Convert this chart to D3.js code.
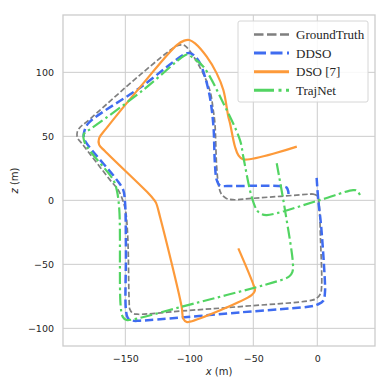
<!DOCTYPE html>
<html>
<head>
<meta charset="utf-8">
<script src="https://cdn.jsdelivr.net/npm/d3@7"></script>
<style>
  body { margin: 0; background: #fff; }
  svg { display: block; }
</style>
</head>
<body>
<svg id="chart" width="390" height="392"></svg>
<script>
// trajectories, [x, z] in metres
var groundTruth = [[-4,5],[0,3.5],[1.2,-1],[2.5,-30],[3.4,-67],[2.5,-73],[-0.5,-76.5],[-4,-78],[-60,-83],[-107,-86.5],[-140,-89],[-144,-88.3],[-146.5,-85],[-147,-79],[-148,-31],[-149.5,-10],[-151,-3],[-155.5,8],[-162,16],[-184,44.5],[-187.5,49],[-187.5,53.5],[-185,57.5],[-180,61.5],[-138.5,98],[-110,120.5],[-106,121.5],[-103,120.5],[-92,104.5],[-84,86],[-81.3,70.5],[-80,60],[-78.6,26],[-77,11],[-75,5],[-71,1.5],[-66,0.5],[-50,1.6],[-4,5]];
var ddso = [[-0.5,17.5],[0.8,0],[3,-20],[6,-65],[6,-72],[4.7,-78.5],[0,-81.5],[-3,-82.5],[-60,-87.5],[-138.5,-94],[-144,-94],[-148,-92],[-149.5,-86],[-149.5,-40],[-150.2,-2],[-151.6,8],[-156.7,16],[-180.2,44.5],[-182.5,49],[-182,54],[-178.9,60.2],[-138.5,88],[-103,114.5],[-99.5,115],[-96,113],[-91.6,107],[-85,86],[-81.3,60],[-80,29],[-78.6,16],[-76,11.5],[-70,11.2],[-27,11],[-24,10],[-22.7,7],[-22.5,5]];
var dso = [[-16,42],[-57.8,32],[-61.7,35.4],[-64.3,41.9],[-68.2,60.2],[-69.5,65.3],[-73.4,86.2],[-78.6,99.2],[-86.4,112.2],[-95.5,122.6],[-100,125.3],[-104,124.8],[-109.8,121.3],[-136,91.4],[-165,56],[-170.5,48.5],[-170.5,43.5],[-166,38.5],[-132,5.5],[-128,1],[-126,-2],[-122.9,-12.8],[-106,-83],[-104.7,-92.5],[-102,-95],[-99.5,-94.8],[-51.3,-74],[-48.7,-70.5],[-49.5,-67],[-61.7,-37.5]];
var trajNet = [[-31.7,29],[-25,-9],[-19,-50],[-19.5,-56],[-22,-59.5],[-26,-61.5],[-107.3,-83.5],[-143.8,-93],[-149,-93.5],[-152,-91],[-153.6,-83],[-154.7,-7.5],[-156.7,8],[-159.4,15.9],[-181.5,44.5],[-182.5,51.5],[-180,54],[-177.6,55.5],[-136,86.2],[-104,113],[-101,114],[-98,112],[-89,104.4],[-73.4,75.8],[-60.4,47.1],[-57.8,34],[-51.3,2.8],[-47,-8],[-44,-10.5],[-39.5,-11.5],[2,0.2],[28,8],[31,7.5],[33.4,4]];

var seriesNames = ["GroundTruth", "DDSO", "DSO [7]", "TrajNet"];
var seriesData = [groundTruth, ddso, dso, trajNet];
var xTicks = [-150, -100, -50, 0];
var zTicks = [-100, -50, 0, 50, 100];

var styles = [
  { color: "#7f7f7f", width: 1.7, dash: "5.5,2.5" },
  { color: "#3f6cf0", width: 2.5, dash: "8.5,3.8" },
  { color: "#fd9a3a", width: 2.2, dash: null },
  { color: "#52d462", width: 2.2, dash: "12,3.5,2.5,3.5" }
];

var svg = d3.select("#chart");
var pLeft = 63, pRight = 375, pTop = 15, pBottom = 346;

var x = d3.scaleLinear().domain([-198.7, 45.1]).range([pLeft, pRight]);
var y = d3.scaleLinear().domain([-113.8, 144.8]).range([pBottom, pTop]);

/* ---- grid ---- */
var grid = svg.append("g");
grid.selectAll(".gx").data(xTicks).enter().append("line")
  .attr("x1", d => x(d)).attr("x2", d => x(d))
  .attr("y1", pTop).attr("y2", pBottom)
  .attr("stroke", "#cccccc").attr("stroke-width", 1);
grid.selectAll(".gy").data(zTicks).enter().append("line")
  .attr("x1", pLeft).attr("x2", pRight)
  .attr("y1", d => y(d)).attr("y2", d => y(d))
  .attr("stroke", "#cccccc").attr("stroke-width", 1);

/* ---- axes (labels only, seaborn style) ---- */
var xAxis = svg.append("g").attr("transform", "translate(0," + pBottom + ")")
  .call(d3.axisBottom(x).tickValues(xTicks).tickSize(0).tickPadding(9)
    .tickFormat(d => d < 0 ? "\u2212" + Math.abs(d) : d));
var yAxis = svg.append("g").attr("transform", "translate(" + pLeft + ",0)")
  .call(d3.axisLeft(y).tickValues(zTicks).tickSize(0).tickPadding(9)
    .tickFormat(d => d < 0 ? "\u2212" + Math.abs(d) : d));
[xAxis, yAxis].forEach(function(a) {
  a.select(".domain").remove();
  a.selectAll("text").attr("font-family", "DejaVu Sans, sans-serif")
    .attr("font-size", "9.5px").attr("fill", "#262626");
});

svg.append("text").attr("x", (pLeft + pRight) / 2).attr("y", 375)
  .attr("text-anchor", "middle").attr("font-family", "DejaVu Sans, sans-serif")
  .attr("font-size", "10px").attr("fill", "#262626")
  .html('<tspan font-style="italic">x</tspan> (m)');
svg.append("text").attr("transform", "translate(18," + ((pTop + pBottom) / 2) + ") rotate(-90)")
  .attr("text-anchor", "middle").attr("font-family", "DejaVu Sans, sans-serif")
  .attr("font-size", "10px").attr("fill", "#262626")
  .html('<tspan font-style="italic">z</tspan> (m)');

/* ---- trajectories ---- */
var line = d3.line().x(d => x(d[0])).y(d => y(d[1])).curve(d3.curveCatmullRom.alpha(0.5));
svg.append("defs").append("clipPath").attr("id", "clip")
  .append("rect").attr("x", pLeft).attr("y", pTop).attr("width", pRight - pLeft).attr("height", pBottom - pTop);
var plot = svg.append("g").attr("clip-path", "url(#clip)");
seriesData.forEach(function(pts, i) {
  plot.append("path").attr("d", line(pts))
    .attr("fill", "none")
    .attr("stroke", styles[i].color)
    .attr("stroke-width", styles[i].width)
    .attr("stroke-dasharray", styles[i].dash)
    .attr("stroke-linejoin", "round");
});

/* ---- frame ---- */
svg.append("rect").attr("x", pLeft).attr("y", pTop).attr("width", pRight - pLeft).attr("height", pBottom - pTop)
  .attr("fill", "none").attr("stroke", "#cccccc").attr("stroke-width", 1.3);

/* ---- legend ---- */
var legend = svg.append("g");
legend.append("rect").attr("x", 238).attr("y", 21).attr("width", 130).attr("height", 81).attr("rx", 2)
  .attr("fill", "#fff").attr("fill-opacity", 0.85).attr("stroke", "#d6d6d6").attr("stroke-width", 1);
var legendDash = ["9.5,3.5", "12,4.5", null, "20,4.5,3,4.5"];
seriesNames.forEach(function(name, i) {
  var ly = 34.5 + i * 18.6;
  legend.append("line").attr("x1", 254).attr("x2", 289).attr("y1", ly).attr("y2", ly)
    .attr("stroke", styles[i].color).attr("stroke-width", i === 0 ? 2.4 : 3)
    .attr("stroke-dasharray", legendDash[i]);
  legend.append("text").attr("x", 296).attr("y", ly + 4.5)
    .attr("font-family", "Liberation Serif, Times New Roman, serif")
    .attr("font-size", "13px").attr("fill", "#262626").text(name);
});
</script>
</body>
</html>
